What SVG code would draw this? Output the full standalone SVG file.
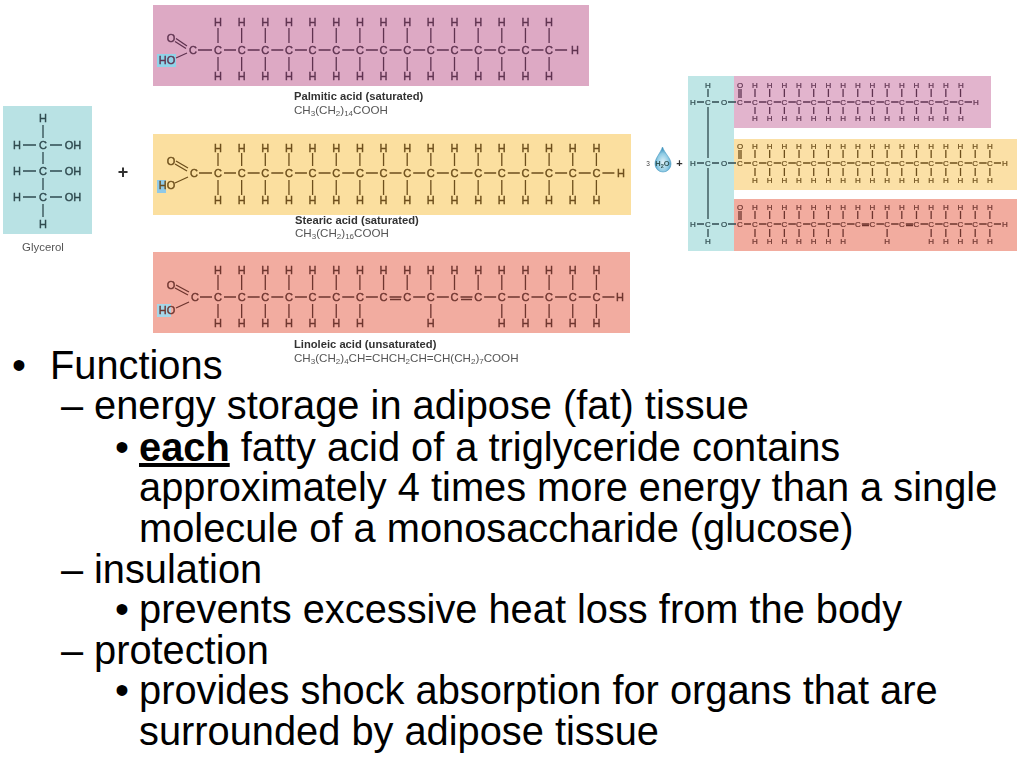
<svg xmlns="http://www.w3.org/2000/svg" width="1024" height="768" viewBox="0 0 1024 768">
<style>
text{font-family:"Liberation Sans",Arial,sans-serif}
.a{font-size:11px;text-anchor:middle;stroke-width:.4}
.s{font-size:8px;text-anchor:middle;stroke-width:.2}
.p{fill:#5f3350;stroke:#5f3350}
.y{fill:#6d4f1c;stroke:#6d4f1c}
.r{fill:#6e352f;stroke:#6e352f}
.g{fill:#2f4a4f;stroke:#2f4a4f}
.b{fill:none;stroke-width:1.3}
.bp{stroke:#5f3350}.by{stroke:#6d4f1c}.br{stroke:#6e352f}.bg{stroke:#2f4a4f}
.n{font-size:11.2px;font-weight:700;fill:#333}
.f{font-size:11.6px;fill:#555}
.u{font-size:8px}
.t{font-size:39.8px;fill:#000}
</style>
<defs>
<filter id="soft" x="-2%" y="-2%" width="104%" height="104%"><feGaussianBlur stdDeviation="0.4"/></filter>
<radialGradient id="drop" cx="50%" cy="62%" r="55%"><stop offset="0" stop-color="#e4f4fa"/><stop offset=".65" stop-color="#8fcbe4"/><stop offset="1" stop-color="#3f93bd"/></radialGradient>
</defs>
<g id="figure" filter="url(#soft)">
<g id="backgrounds">
<rect x="153" y="5" width="436" height="81" fill="#dda9c4"/>
<rect x="153" y="134" width="478" height="81" fill="#fbdf9f"/>
<rect x="153" y="252" width="477" height="81" fill="#f2aca0"/>
<rect x="3" y="106" width="89" height="128" fill="#b9e2e4"/>
<rect x="688" y="76" width="46" height="175" fill="#bfe6e6"/>
<rect x="734" y="76" width="257" height="52" fill="#e2b4cd"/>
<rect x="734" y="139" width="283" height="51" fill="#fbe0a6"/>
<rect x="734" y="199" width="283" height="52" fill="#f2ac9f"/>
<rect x="157" y="54" width="19" height="13" fill="#8fd3e8"/>
<rect x="157" y="180" width="9" height="13" fill="#8fc9e8"/>
<rect x="157" y="304" width="14" height="13" fill="#a5d6e8"/>
</g>
<g id="connectors">
<path class="b bp" d="M198 50H212M176 38.500L187 46M175 41.500L186 48.500M176 58L187 53"/>
<line class="b bp" x1="224" y1="50" x2="569" y2="50" stroke-dasharray="12 11.65"/>
<path class="b bp" d="M218 28v15m0 14v14
m23.65-43v15m0 14v14m23.65-43v15m0 14v14m23.65-43v15m0 14v14m23.65-43v15m0 14v14
m23.65-43v15m0 14v14m23.65-43v15m0 14v14m23.65-43v15m0 14v14m23.65-43v15m0 14v14
m23.65-43v15m0 14v14m23.65-43v15m0 14v14m23.65-43v15m0 14v14m23.65-43v15m0 14v14
m23.65-43v15m0 14v14m23.65-43v15m0 14v14"/>
<path class="b by" d="M199 173H212M176 161L188 168M175 164L187 171M175 183L188 177"/>
<line class="b by" x1="224" y1="173" x2="616" y2="173" stroke-dasharray="12 11.65"/>
<path class="b by" d="M218 153v13m0 14v15
m23.65-42v13m0 14v15m23.65-42v13m0 14v15m23.65-42v13m0 14v15m23.65-42v13m0 14v15
m23.65-42v13m0 14v15m23.65-42v13m0 14v15m23.65-42v13m0 14v15m23.65-42v13m0 14v15
m23.65-42v13m0 14v15m23.65-42v13m0 14v15m23.65-42v13m0 14v15m23.65-42v13m0 14v15
m23.65-42v13m0 14v15m23.65-42v13m0 14v15m23.65-42v13m0 14v15m23.65-42v13m0 14v15"/>
<path class="b br" d="M200 297H212M176 285L189 292M175 288L188 295M176 308L189 302"/>
<line class="b br" x1="224" y1="297" x2="616" y2="297" stroke-dasharray="12 11.65"/>
<path class="b br" d="M390 299.500H401M461 299.500H472"/>
<path class="b br" d="M218 275v15
m23.65-15v15m23.65-15v15m23.65-15v15m23.65-15v15
m23.65-15v15m23.65-15v15m23.65-15v15m23.65-15v15
m23.65-15v15m23.65-15v15m23.65-15v15m23.65-15v15
m23.65-15v15m23.65-15v15m23.65-15v15m23.65-15v15"/>
<path class="b br" d="M218 304v14m23.65-14v14m23.65-14v14m23.65-14v14m23.65-14v14m23.65-14v14m23.65-14v14m70.95-14v14m70.95-14v14m23.65-14v14m23.65-14v14m23.65-14v14m23.65-14v14"/>
<path class="b bg" d="M43 125V138M43 152V164M43 178V190M43 204V217M23 145H36M50 145H62M23 171H36M50 171H62M23 197H36M50 197H62"/>
<path class="b bg" d="M697 102H704M712 102H719M728 102H736M708 89V97M708 107V158M708 168V219M708 229V237M697 163H704M712 163H719M728 163H736M697 224H704M712 224H719M728 224H736"/>
<path class="b bp" d="M739 89V98M741 89V98M744 102H751"/>
<line class="b bp" x1="759" y1="102" x2="972" y2="102" stroke-dasharray="7.500 7.180"/>
<path class="b bp" d="M755 89v8m0 10v7
m14.68-25v8m0 10v7m14.68-25v8m0 10v7m14.68-25v8m0 10v7m14.68-25v8m0 10v7
m14.68-25v8m0 10v7m14.68-25v8m0 10v7m14.68-25v8m0 10v7m14.68-25v8m0 10v7
m14.68-25v8m0 10v7m14.68-25v8m0 10v7m14.68-25v8m0 10v7m14.68-25v8m0 10v7
m14.68-25v8m0 10v7m14.68-25v8m0 10v7"/>
<path class="b by" d="M739 150V159M741 150V159M744 163H751"/>
<line class="b by" x1="759" y1="163" x2="1001" y2="163" stroke-dasharray="7.500 7.180"/>
<path class="b by" d="M755 150v8m0 10v8
m14.68-26v8m0 10v8m14.68-26v8m0 10v8m14.68-26v8m0 10v8m14.68-26v8m0 10v8
m14.68-26v8m0 10v8m14.68-26v8m0 10v8m14.68-26v8m0 10v8m14.68-26v8m0 10v8
m14.68-26v8m0 10v8m14.68-26v8m0 10v8m14.68-26v8m0 10v8m14.68-26v8m0 10v8
m14.68-26v8m0 10v8m14.68-26v8m0 10v8m14.68-26v8m0 10v8m14.68-26v8m0 10v8"/>
<path class="b br" d="M739 211V220M741 211V220M744 224H751M862 225.500H869M906 225.500H913"/>
<line class="b br" x1="759" y1="224" x2="1001" y2="224" stroke-dasharray="7.500 7.180"/>
<path class="b br" d="M755 211v8
m14.68-8v8m14.68-8v8m14.68-8v8m14.68-8v8
m14.68-8v8m14.68-8v8m14.68-8v8m14.68-8v8
m14.68-8v8m14.68-8v8m14.68-8v8m14.68-8v8
m14.68-8v8m14.68-8v8m14.68-8v8m14.68-8v8"/>
<path class="b br" d="M755 229v8m14.68-8v8m14.68-8v8m14.68-8v8m14.68-8v8m14.68-8v8m14.68-8v8m44.04-8v8m44.04-8v8m14.68-8v8m14.68-8v8m14.68-8v8m14.68-8v8"/>
</g>
<g id="palmitic-acid">
<text class="a p" x="218 241.65 265.3 288.95 312.6 336.25 359.9 383.55 407.2 430.85 454.5 478.15 501.8 525.45 549.1" y="26">HHHHHHHHHHHHHHH</text>
<text class="a p" x="193 218 241.65 265.3 288.95 312.6 336.25 359.9 383.55 407.2 430.85 454.5 478.15 501.8 525.45 549.1 575" y="54">CCCCCCCCCCCCCCCCH</text>
<text class="a p" x="218 241.65 265.3 288.95 312.6 336.25 359.9 383.55 407.2 430.85 454.5 478.15 501.8 525.45 549.1" y="80">HHHHHHHHHHHHHHH</text>
<text class="a p" x="171" y="42">O</text>
<text class="a p" x="167" y="64">HO</text>
<text class="n" x="294" y="100">Palmitic acid (saturated)</text>
<text class="f" x="294" y="114">CH<tspan class="u" dy="2">3</tspan><tspan dy="-2">(CH</tspan><tspan class="u" dy="2">2</tspan><tspan dy="-2">)</tspan><tspan class="u" dy="2">14</tspan><tspan dy="-2">COOH</tspan></text>
</g>
<g id="stearic-acid">
<text class="a y" x="218 241.65 265.3 288.95 312.6 336.25 359.9 383.55 407.2 430.85 454.5 478.15 501.8 525.45 549.1 572.75 596.4" y="152">HHHHHHHHHHHHHHHHH</text>
<text class="a y" x="194 218 241.65 265.3 288.95 312.6 336.25 359.9 383.55 407.2 430.85 454.5 478.15 501.8 525.45 549.1 572.75 596.4 621" y="177">CCCCCCCCCCCCCCCCCCH</text>
<text class="a y" x="218 241.65 265.3 288.95 312.6 336.25 359.9 383.55 407.2 430.85 454.5 478.15 501.8 525.45 549.1 572.75 596.4" y="204">HHHHHHHHHHHHHHHHH</text>
<text class="a y" x="171" y="165">O</text>
<text class="a y" x="167" y="189">HO</text>
<text class="n" x="295" y="224">Stearic acid (saturated)</text>
<text class="f" x="295" y="237">CH<tspan class="u" dy="2">3</tspan><tspan dy="-2">(CH</tspan><tspan class="u" dy="2">2</tspan><tspan dy="-2">)</tspan><tspan class="u" dy="2">16</tspan><tspan dy="-2">COOH</tspan></text>
</g>
<g id="linoleic-acid">
<text class="a r" x="218 241.65 265.3 288.95 312.6 336.25 359.9 383.55 407.2 430.85 454.5 478.15 501.8 525.45 549.1 572.75 596.4" y="274">HHHHHHHHHHHHHHHHH</text>
<text class="a r" x="195 218 241.65 265.3 288.95 312.6 336.25 359.9 383.55 407.2 430.85 454.5 478.15 501.8 525.45 549.1 572.75 596.4 620" y="301">CCCCCCCCCCCCCCCCCCH</text>
<text class="a r" x="218 241.65 265.3 288.95 312.6 336.25 359.9 430.85 501.8 525.45 549.1 572.75 596.4" y="327">HHHHHHHHHHHHH</text>
<text class="a r" x="171" y="289">O</text>
<text class="a r" x="167" y="314">HO</text>
<text class="n" x="294" y="348">Linoleic acid (unsaturated)</text>
<text class="f" x="294" y="362">CH<tspan class="u" dy="2">3</tspan><tspan dy="-2">(CH</tspan><tspan class="u" dy="2">2</tspan><tspan dy="-2">)</tspan><tspan class="u" dy="2">4</tspan><tspan dy="-2">CH=CHCH</tspan><tspan class="u" dy="2">2</tspan><tspan dy="-2">CH=CH(CH</tspan><tspan class="u" dy="2">2</tspan><tspan dy="-2">)</tspan><tspan class="u" dy="2">7</tspan><tspan dy="-2">COOH</tspan></text>
</g>
<g id="glycerol">
<text class="a g" x="43" y="122">H</text>
<text class="a g" x="17 43" y="149">HC</text>
<text class="a g" x="73" y="149">OH</text>
<text class="a g" x="17 43" y="175">HC</text>
<text class="a g" x="73" y="175">OH</text>
<text class="a g" x="17 43" y="201">HC</text>
<text class="a g" x="73" y="201">OH</text>
<text class="a g" x="43" y="228">H</text>
<text x="43" y="251" font-size="11.400" text-anchor="middle" fill="#555">Glycerol</text>
</g>
<text id="plus-left" x="123" y="178" font-size="18" text-anchor="middle" fill="#333" font-weight="700">+</text>
<g id="water">
<path d="M662.500 147C660 154 655 158 655 164A8 8 0 0 0 671 164C671 158 665 154 662.500 147Z" fill="url(#drop)" stroke="#4b9cc4" stroke-width=".6"/>
<text x="648" y="165.500" font-size="6.500" text-anchor="middle" fill="#444">3</text>
<text x="662.500" y="166" font-size="7.500" text-anchor="middle" fill="#355" font-weight="700">H<tspan font-size="5.500" dy="1.500">2</tspan><tspan dy="-1.500">O</tspan></text>
<text x="679.500" y="167" font-size="11" text-anchor="middle" fill="#333" font-weight="700">+</text>
</g>
<g id="triglyceride">
<text class="s g" x="708" y="88">H</text>
<text class="s g" x="693 708 724" y="105">HCO</text>
<text class="s g" x="693 708 724" y="166">HCO</text>
<text class="s g" x="693 708 724" y="227">HCO</text>
<text class="s g" x="708" y="244">H</text>
<text class="s p" x="740 755 769.7 784.4 799 813.7 828.4 843.1 857.8 872.4 887.1 901.8 916.5 931.2 945.8 961" y="87.500">OHHHHHHHHHHHHHHH</text>
<text class="s p" x="740 755 769.7 784.4 799 813.7 828.4 843.1 857.8 872.4 887.1 901.8 916.5 931.2 945.8 961 976" y="105">CCCCCCCCCCCCCCCCH</text>
<text class="s p" x="755 769.7 784.4 799 813.7 828.4 843.1 857.8 872.4 887.1 901.8 916.5 931.2 945.8 961" y="121">HHHHHHHHHHHHHHH</text>
<text class="s y" x="740 755 769.7 784.4 799 813.7 828.4 843.1 857.8 872.4 887.1 901.8 916.5 931.2 945.8 960.5 975.2 989.9" y="149">OHHHHHHHHHHHHHHHHH</text>
<text class="s y" x="740 755 769.7 784.4 799 813.7 828.4 843.1 857.8 872.4 887.1 901.8 916.5 931.2 945.8 960.5 975.2 989.9 1005" y="166">CCCCCCCCCCCCCCCCCCH</text>
<text class="s y" x="755 769.7 784.4 799 813.7 828.4 843.1 857.8 872.4 887.1 901.8 916.5 931.2 945.8 960.5 975.2 989.9" y="183">HHHHHHHHHHHHHHHHH</text>
<text class="s r" x="740 755 769.7 784.4 799 813.7 828.4 843.1 857.8 872.4 887.1 901.8 916.5 931.2 945.8 960.5 975.2 989.9" y="210">OHHHHHHHHHHHHHHHHH</text>
<text class="s r" x="740 755 769.7 784.4 799 813.7 828.4 843.1 857.8 872.4 887.1 901.8 916.5 931.2 945.8 960.5 975.2 989.9 1005" y="227">CCCCCCCCCCCCCCCCCCH</text>
<text class="s r" x="755 769.7 784.4 799 813.7 828.4 843.1 887.1 931.2 945.8 960.5 975.2 989.9" y="244">HHHHHHHHHHHHH</text>
</g>
</g>
<g id="bullets">
<text class="t" x="12" y="379">•</text><text class="t" x="50" y="379">Functions</text>
<text class="t" x="61" y="419">–</text><text class="t" x="94" y="419">energy storage in adipose (fat) tissue</text>
<text class="t" x="115" y="461">•</text><text class="t" x="139" y="461"><tspan font-weight="700" text-decoration="underline">each</tspan> fatty acid of a triglyceride contains</text>
<text class="t" x="139" y="501">approximately 4 times more energy than a single</text>
<text class="t" x="139" y="542">molecule of a monosaccharide (glucose)</text>
<text class="t" x="61" y="583">–</text><text class="t" x="94" y="583">insulation</text>
<text class="t" x="115" y="623">•</text><text class="t" x="139" y="623">prevents excessive heat loss from the body</text>
<text class="t" x="61" y="664">–</text><text class="t" x="94" y="664">protection</text>
<text class="t" x="115" y="704">•</text><text class="t" x="139" y="704">provides shock absorption for organs that are</text>
<text class="t" x="139" y="745">surrounded by adipose tissue</text>
</g>
</svg>
